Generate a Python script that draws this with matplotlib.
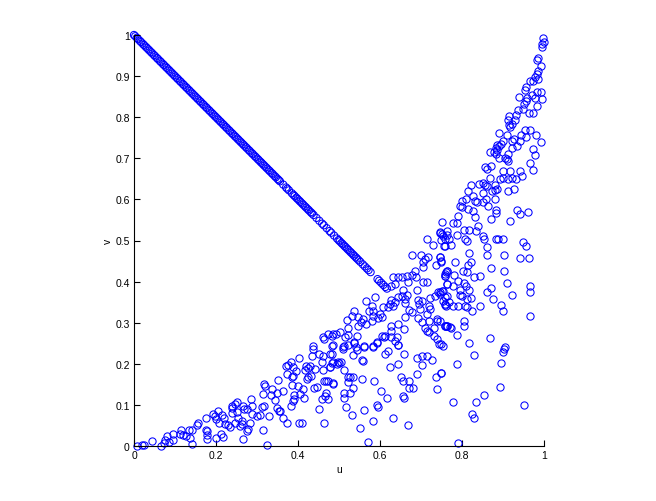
import matplotlib

matplotlib.use("Agg")
import matplotlib.pyplot as plt

# values, as (u, v)
diag_u = [0, .003, .007, .01, .014, .017, .021, .024, .028, .031, .035, .038, .042, .045, .049, .052, .056, .059, .063, .066,
          .07, .073, .077, .08, .084, .087, .091, .094, .098, .101, .105, .108, .112, .115, .119, .122, .126, .129, .133, .136,
          .14, .143, .147, .15, .154, .157, .161, .164, .168, .171, .175, .178, .182, .185, .189, .192, .196, .199, .203, .206,
          .21, .213, .217, .22, .224, .227, .231, .234, .238, .241, .245, .248, .252, .255, .259, .262, .266, .269, .273, .276,
          .28, .283, .287, .29, .294, .297, .301, .304, .308, .311, .315, .318, .322, .325, .329, .332, .336, .339, .343, .346,
          .35, .353, .356, .364, .371, .374, .378, .385, .389, .392, .396, .399, .403, .406, .41, .413, .417, .42, .424, .427,
          .431, .434, .438, .445, .452, .459, .463, .47, .477, .481, .488, .495, .499, .502, .506, .509, .513, .516, .52, .523,
          .527, .53, .534, .537, .541, .544, .548, .552, .558, .563, .568, .572, .577, .594, .598, .603, .608, .613, .617]
diag_v = [1, .997, .993, .99, .986, .983, .979, .976, .972, .969, .965, .962, .958, .955, .951, .948, .944, .941, .937, .934,
          .93, .927, .923, .92, .916, .913, .909, .906, .902, .899, .895, .892, .888, .885, .881, .878, .874, .871, .867, .864,
          .86, .857, .853, .85, .846, .843, .839, .836, .832, .829, .825, .822, .818, .815, .811, .808, .804, .801, .797, .794,
          .79, .787, .783, .78, .776, .773, .769, .766, .762, .759, .755, .752, .748, .745, .741, .738, .734, .731, .727, .724,
          .72, .717, .713, .71, .706, .703, .699, .696, .692, .689, .685, .682, .678, .675, .671, .668, .664, .661, .657, .654,
          .65, .647, .644, .636, .629, .626, .622, .615, .611, .608, .604, .601, .597, .594, .59, .587, .583, .58, .576, .573,
          .569, .566, .562, .555, .548, .541, .537, .53, .523, .519, .512, .505, .501, .498, .494, .491, .487, .484, .48, .477,
          .473, .47, .466, .463, .459, .456, .452, .448, .442, .437, .432, .428, .423, .406, .402, .397, .392, .387, .383]

low_pts = [(.008, .001), (.019, .002), (.024, .003), (.043, .011), (.065, .001), (.072, .008), (.076, .014), (.08, .024),
           (.086, .01), (.094, .03), (.096, .014), (.115, .039), (.111, .029), (.12, .026), (.128, .024), (.135, .038),
           (.137, .02), (.141, .006), (.142, .038), (.157, .055), (.154, .051), (.176, .069), (.175, .038), (.177, .037),
           (.179, .026), (.177, .018), (.2, .019), (.193, .077), (.198, .073), (.206, .086), (.2, .065), (.208, .057),
           (.214, .075), (.211, .03), (.218, .023), (.22, .069), (.23, .051), (.222, .053), (.233, .047), (.238, .098),
           (.238, .093), (.25, .106), (.246, .102), (.238, .081), (.25, .083), (.246, .057), (.254, .069), (.259, .049),
           (.265, .018), (.263, .061), (.263, .053), (.275, .037), (.279, .041), (.283, .057), (.285, .114), (.267, .098),
           (.268, .091), (.276, .09), (.289, .098), (.289, .079), (.299, .073), (.307, .075), (.311, .094), (.317, .098),
           (.317, .151), (.319, .147), (.314, .126), (.315, .038), (.329, .072), (.325, .002), (.336, .138), (.333, .125),
           (.344, .112), (.348, .13), (.35, .16), (.348, .092), (.354, .084), (.356, .086), (.363, .134), (.363, .069),
           (.374, .057), (.371, .195), (.376, .197), (.382, .204), (.374, .175), (.385, .169), (.385, .148), (.387, .171),
           (.389, .191), (.395, .183), (.382, .098), (.387, .11), (.39, .125), (.391, .114), (.402, .055), (.409, .057),
           (.401, .147), (.405, .126), (.413, .138), (.415, .118), (.403, .213), (.417, .186), (.419, .194), (.425, .189),
           (.429, .195), (.423, .163), (.425, .167), (.431, .171), (.433, .22), (.436, .244), (.436, .235), (.44, .14),
           (.45, .224), (.458, .204), (.446, .143), (.45, .09), (.458, .114), (.463, .057), (.466, .122), (.472, .114),
           (.463, .159), (.468, .159), (.474, .159), (.441, .187), (.462, .186), (.468, .13), (.462, .265), (.463, .261),
           (.474, .273), (.486, .273), (.462, .218), (.482, .243), (.478, .224), (.478, .191), (.486, .204), (.498, .204),
           (.486, .153)]

mid_pts = [(.714, .504), (.73, .49), (.746, .518), (.754, .512), (.758, .504), (.758, .487), (.679, .465), (.699, .465),
           (.718, .461), (.71, .455), (.706, .447), (.706, .435), (.746, .461), (.748, .451), (.737, .44), (.761, .423),
           (.763, .427), (.758, .414), (.764, .394), (.685, .427), (.677, .416), (.665, .414), (.653, .41), (.645, .412),
           (.632, .412), (.637, .394), (.628, .39), (.669, .398), (.688, .41), (.704, .4), (.714, .398), (.691, .38),
           (.655, .38), (.667, .368), (.645, .362), (.653, .366), (.661, .358), (.661, .348), (.637, .35), (.627, .355),
           (.624, .345), (.62, .337), (.631, .34), (.589, .363), (.565, .352), (.58, .34), (.574, .329), (.584, .329),
           (.537, .329), (.531, .317), (.52, .307), (.547, .315), (.559, .309), (.553, .301), (.547, .291), (.567, .297),
           (.584, .317), (.58, .305), (.6, .321), (.604, .313), (.596, .311), (.608, .337), (.671, .332), (.677, .325),
           (.661, .315), (.693, .355), (.702, .354), (.696, .345), (.697, .333), (.722, .359), (.734, .366), (.742, .374),
           (.75, .378), (.746, .37), (.753, .354), (.758, .343), (.764, .366), (.72, .341), (.722, .333), (.714, .321),
           (.693, .311), (.702, .301), (.72, .305), (.738, .309), (.74, .305), (.71, .286), (.714, .281), (.719, .277),
           (.732, .287), (.758, .291), (.764, .293), (.732, .267), (.738, .26), (.745, .248), (.628, .293), (.645, .298),
           (.659, .285), (.627, .281), (.606, .268), (.612, .268), (.61, .264), (.628, .264), (.641, .264), (.637, .256),
           (.645, .246), (.592, .252), (.584, .243), (.562, .244), (.543, .268), (.523, .27), (.523, .287), (.515, .264),
           (.502, .277), (.493, .273), (.482, .267), (.537, .252), (.512, .244), (.541, .24), (.486, .246),
           (.482, .224), (.51, .24), (.509, .236), (.523, .245), (.537, .25), (.543, .233), (.535, .221), (.562, .242),
           (.584, .24), (.592, .25), (.612, .224), (.62, .23), (.645, .245), (.658, .225), (.557, .21), (.559, .207),
           (.494, .199), (.501, .203), (.506, .205), (.482, .203), (.478, .191), (.512, .185), (.624, .191), (.645, .199),
           (.691, .215), (.702, .218), (.715, .218), (.728, .209), (.702, .197), (.691, .175), (.748, .177), (.737, .169),
           (.521, .167), (.527, .167), (.533, .167), (.557, .164), (.586, .157), (.651, .169), (.657, .159), (.671, .157),
           (.671, .142), (.681, .14), (.74, .138), (.523, .155), (.486, .152), (.535, .142), (.528, .13), (.513, .129),
           (.512, .116), (.603, .133), (.618, .118), (.657, .121), (.659, .117), (.593, .1), (.594, .094), (.516, .094),
           (.562, .087), (.532, .075), (.632, .069), (.584, .06), (.669, .05), (.55, .043), (.57, .009)]

upper_pts = [(.998, .993), (1.0, .982), (.996, .977), (.994, .97), (.986, .943), (.983, .938), (.992, .924), (.986, .913),
             (.982, .905), (.978, .899), (.986, .893), (.974, .889), (.966, .887), (.957, .873), (.953, .865), (.992, .861),
             (.983, .861), (.97, .855), (.939, .849), (.959, .847), (.978, .847), (.994, .845), (.956, .839), (.951, .832),
             (.983, .827), (.948, .82), (.937, .818), (.964, .81), (.972, .81), (.931, .806), (.915, .804), (.913, .794),
             (.929, .794), (.915, .78), (.923, .784), (.917, .776), (.891, .762), (.909, .757), (.953, .769), (.967, .769),
             (.945, .757), (.98, .757), (.956, .753), (.926, .747), (.923, .742), (.941, .742), (.9, .743), (.992, .739),
             (.896, .735), (.935, .731), (.891, .731), (.886, .733), (.923, .725), (.884, .725), (.886, .719), (.972, .723),
             (.868, .715), (.879, .715), (.883, .711), (.911, .711), (.979, .708), (.891, .701), (.905, .701), (.909, .699),
             (.913, .694), (.967, .689), (.972, .672), (.856, .678), (.86, .674), (.87, .681), (.9, .668), (.918, .669),
             (.941, .669), (.947, .656), (.868, .652), (.892, .65), (.9, .652), (.913, .65), (.921, .652), (.931, .65),
             (.823, .635), (.842, .638), (.85, .639), (.856, .635), (.86, .632), (.815, .62), (.88, .634), (.886, .626),
             (.88, .623), (.872, .621), (.911, .62), (.926, .626), (.852, .615), (.826, .609), (.809, .6), (.801, .597),
             (.796, .585), (.801, .581), (.831, .597), (.837, .593), (.858, .601), (.88, .601), (.85, .593), (.864, .585),
             (.815, .577), (.827, .571), (.831, .558), (.884, .573), (.882, .566), (.935, .573), (.941, .565), (.961, .569),
             (.791, .559), (.87, .553), (.918, .547), (.777, .542), (.752, .544), (.787, .543)]

right_pts = [(.746, .52), (.805, .526), (.818, .526), (.834, .522), (.84, .535), (.764, .522), (.787, .514), (.75, .516),
             (.764, .513), (.85, .51), (.854, .504), (.807, .504), (.811, .498), (.769, .504), (.748, .502), (.774, .49),
             (.756, .486), (.861, .483), (.883, .504), (.888, .504), (.9, .504), (.949, .496), (.957, .486), (.818, .469),
             (.861, .465), (.903, .465), (.941, .457), (.964, .457), (.746, .461), (.748, .447), (.783, .447), (.823, .447),
             (.815, .441), (.87, .432), (.903, .425), (.803, .425), (.811, .424), (.764, .427), (.758, .419), (.758, .413),
             (.781, .417), (.844, .414), (.83, .41), (.791, .402), (.805, .397), (.809, .389), (.764, .393), (.779, .389),
             (.91, .396), (.967, .389), (.967, .374), (.87, .384), (.862, .374), (.795, .38), (.818, .38), (.754, .378),
             (.746, .374), (.796, .367), (.801, .366), (.823, .359), (.813, .358), (.758, .363), (.923, .368), (.876, .358),
             (.894, .344), (.844, .34), (.769, .351), (.758, .346), (.761, .341), (.777, .34), (.791, .34), (.807, .341),
             (.813, .337), (.825, .328), (.9, .328), (.967, .317), (.805, .303), (.805, .293), (.761, .291), (.77, .29),
             (.746, .303), (.758, .291), (.764, .291), (.772, .286), (.787, .27), (.818, .251), (.868, .262), (.906, .242),
             (.902, .236), (.9, .228), (.754, .244), (.748, .248), (.83, .221), (.896, .202), (.787, .199), (.748, .177),
             (.893, .143), (.854, .123), (.779, .106), (.835, .106), (.952, .1), (.825, .078), (.83, .067), (.791, .007)]

x_ticks = [0, 0.2, 0.4, 0.6, 0.8, 1]
x_tick_labels = ["0", "0.2", "0.4", "0.6", "0.8", "1"]
y_ticks = [0, 0.1, 0.2, 0.3, 0.4, 0.5, 0.6, 0.7, 0.8, 0.9, 1]
y_tick_labels = ["0", "0.1", "0.2", "0.3", "0.4", "0.5", "0.6", "0.7", "0.8", "0.9", "1"]

plt.rcParams["font.family"] = "Liberation Sans"

fig = plt.figure(figsize=(6.56, 5.02), dpi=100)
ax = fig.add_axes([134 / 656, 55 / 502, 410 / 656, 411 / 502])

cloud_u = [p[0] for p in low_pts + mid_pts + upper_pts + right_pts]
cloud_v = [p[1] for p in low_pts + mid_pts + upper_pts + right_pts]

# scatter with no face keeps subpixel positions, plot() rounds markers to whole pixels
ax.scatter(diag_u, diag_v, s=5.2 ** 2, facecolors="none", edgecolors="#0000ff", linewidths=0.75, clip_on=False)
ax.plot(cloud_u, cloud_v, linestyle="none", marker="o", mfc="none", mec="#0000ff", ms=5.2, mew=0.75, clip_on=False)

ax.set_xlim(0, 1)
ax.set_ylim(0, 1)
ax.set_xticks(x_ticks)
ax.set_xticklabels(x_tick_labels)
ax.set_yticks(y_ticks)
ax.set_yticklabels(y_tick_labels)
ax.tick_params(direction="in", length=4, width=0.8, labelsize=7.5, pad=3)
ax.spines["top"].set_visible(False)
ax.spines["right"].set_visible(False)
ax.set_xlabel("u", fontsize=7.5, labelpad=3)
ax.set_ylabel("v", fontsize=7.5, labelpad=2)

fig.savefig("out.png", dpi=100)
